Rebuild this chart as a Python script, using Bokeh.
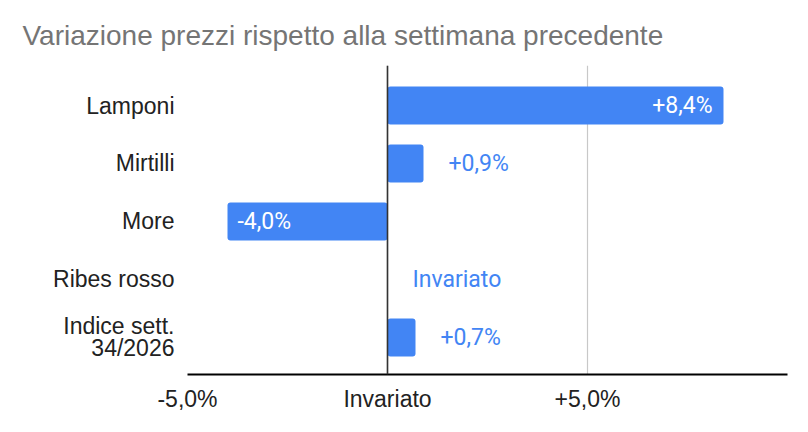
from bokeh.plotting import figure
from bokeh.models import Range1d, FixedTicker, Span, ColumnDataSource
from bokeh.core.properties import value
from bokeh.embed import file_html
from bokeh.resources import INLINE

categories = ["Lamponi", "Mirtilli", "More", "Ribes rosso", "Indice sett.\n34/2026"]
changes = [8.4, 0.9, -4.0, 0.0, 0.7]
x_ticks = [-5, 0, 5, 10]
x_tick_labels = ["-5,0%", "Invariato", "+5,0%", ""]
title_text = "Variazione prezzi rispetto alla settimana precedente"

BLUE = "#4285F4"

def fmt(v):
    if v == 0:
        return "Invariato"
    return f"{v:+.1f}".replace(".", ",") + "%"

pos = list(range(len(categories)))

p = figure(width=792, height=416, output_backend="svg", toolbar_location=None,
           x_range=Range1d(-5, 10), y_range=Range1d(4.64, -0.69),
           min_border_left=187, min_border_right=5, min_border_top=65,
           min_border_bottom=42, title=title_text)
p.title.text_font = "Liberation Sans"
p.title.text_font_size = "28px"
p.title.text_font_style = "normal"
p.title.text_color = "#757575"
p.title.align = "left"
p.title.offset = -165
p.title.standoff = 29

p.outline_line_color = None
p.ygrid.grid_line_color = None
p.xgrid.grid_line_color = "#c8c8c8"
p.xgrid.grid_line_width = 1.2
p.xgrid.ticker = FixedTicker(ticks=x_ticks)

p.xaxis.ticker = FixedTicker(ticks=x_ticks)
p.xaxis.major_label_overrides = {t: l for t, l in zip(x_ticks, x_tick_labels)}
p.xaxis.axis_line_color = "#000000"
p.xaxis.axis_line_width = 2
p.xaxis.major_tick_line_color = None
p.xaxis.minor_tick_line_color = None
p.xaxis.major_tick_out = 0
p.xaxis.major_tick_in = 0
p.xaxis.major_label_standoff = 11
p.xaxis.major_label_text_font = "Liberation Sans"
p.xaxis.major_label_text_font_size = "23px"
p.xaxis.major_label_text_color = "#222222"

p.yaxis.ticker = FixedTicker(ticks=pos)
p.yaxis.major_label_overrides = {i: c for i, c in zip(pos, categories)}
p.yaxis.axis_line_color = None
p.yaxis.major_tick_line_color = None
p.yaxis.minor_tick_line_color = None
p.yaxis.major_tick_out = 0
p.yaxis.major_tick_in = 0
p.yaxis.major_label_standoff = 13
p.yaxis.major_label_text_font = "Liberation Sans"
p.yaxis.major_label_text_font_size = "23px"
p.yaxis.major_label_text_color = "#222222"
p.yaxis.major_label_text_align = "right"
p.yaxis.major_label_text_line_height = 0.85

p.hbar(y=pos, left=0, right=changes, height=0.655, fill_color=BLUE,
       line_color=None, border_radius=3)

p.add_layout(Span(location=0, dimension="height", line_color="#333333", line_width=1.6))

inside_r = dict(x=[], y=[], t=[])
inside_l = dict(x=[], y=[], t=[])
outside = dict(x=[], y=[], t=[])
for i, v in enumerate(changes):
    if v >= 2:
        d = inside_r
    elif v <= -2:
        d = inside_l
    else:
        d = outside
    d["x"].append(max(v, 0) if d is outside else v)
    d["y"].append(i)
    d["t"].append(fmt(v))

common = dict(text_font_size="23px", text_baseline="middle", text_font=value("Roboto"))
p.text(x="x", y="y", text="t", source=ColumnDataSource(inside_r), x_offset=-11,
       text_align="right", text_color="white", **common)
p.text(x="x", y="y", text="t", source=ColumnDataSource(inside_l), x_offset=10,
       text_align="left", text_color="white", **common)
p.text(x="x", y="y", text="t", source=ColumnDataSource(outside), x_offset=25,
       text_align="left", text_color=BLUE, **common)

open("out.html", "w").write(file_html(p, INLINE))
